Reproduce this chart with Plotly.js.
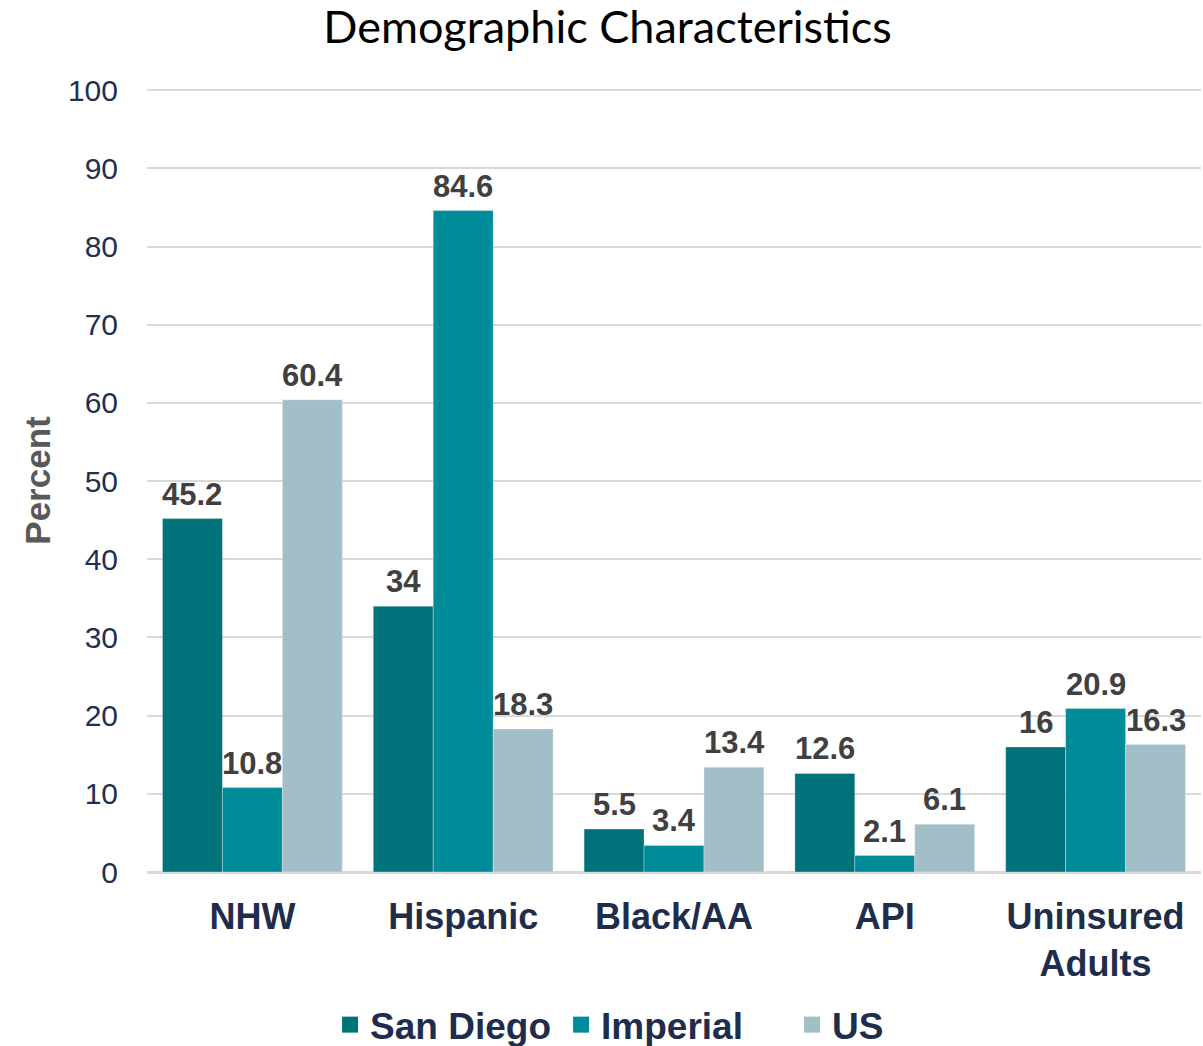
<!DOCTYPE html>
<html>
<head>
<meta charset="utf-8">
<script src="https://cdn.plot.ly/plotly-3.0.1.min.js"></script>
<style>html,body{margin:0;padding:0;background:#fff;}#chart{width:1203px;height:1046px;}</style>
</head>
<body>
<div id="chart"></div>
<script>
const categories = ["NHW", "Hispanic", "Black/AA", "API", "Uninsured<br>Adults"];
const seriesNames = ["San Diego", "Imperial", "US"];
const sanDiego = [45.2, 34, 5.5, 12.6, 16];
const imperial = [10.8, 84.6, 3.4, 2.1, 20.9];
const us = [60.4, 18.3, 13.4, 6.1, 16.3];
const yTicks = [0, 10, 20, 30, 40, 50, 60, 70, 80, 90, 100];

const colors = ["#00737A", "#008B98", "#A2BEC6"];
const allSeries = [sanDiego, imperial, us];
const F = "Liberation Sans, Arial, sans-serif";

const traces = allSeries.map((vals, i) => ({
  type: "bar",
  name: seriesNames[i],
  x: categories,
  y: vals,
  showlegend: false,
  marker: {color: colors[i], line: {color: "rgba(255,255,255,0.6)", width: 0.5}},
  hoverinfo: "none"
}));
// legend entries with larger square swatches
seriesNames.forEach((n, i) => {
  traces.push({
    type: "scatter", mode: "markers", name: n,
    x: [null], y: [null],
    marker: {symbol: "square", size: 16, color: colors[i]},
    showlegend: true, hoverinfo: "none"
  });
});

const barPx = 60;
const annotations = [];
allSeries.forEach((vals, i) => {
  vals.forEach((v, j) => {
    annotations.push({
      x: categories[j], y: v, xref: "x", yref: "y",
      text: String(v), showarrow: false,
      xshift: (i - 1) * barPx, yanchor: "bottom", yshift: 5,
      font: {family: F, size: 31, color: "#404040", weight: "bold"}
    });
  });
});

const layout = {
  width: 1203, height: 1046,
  margin: {l: 147, r: 2, t: 89, b: 174, autoexpand: false},
  paper_bgcolor: "#fff", plot_bgcolor: "#fff",
  title: {text: "Demographic Characteristics", x: 0.505, xanchor: "center", y: 0.974, yanchor: "middle",
          font: {family: "Lato, Carlito, sans-serif", size: 45, color: "#000"}},
  barmode: "group", bargap: 0.147, bargroupgap: 0,
  xaxis: {
    type: "category", tickvals: categories, ticktext: categories,
    showgrid: false, showline: true, linecolor: "#D9D9D9", linewidth: 2,
    ticks: "", ticklabelstandoff: 12, automargin: false,
    tickfont: {family: F, size: 36, color: "#1F2D4D", weight: "bold"}
  },
  yaxis: {
    range: [0, 100.15], tickvals: yTicks, ticktext: yTicks.map(String),
    showgrid: true, gridcolor: "#D9D9D9", gridwidth: 2,
    zeroline: true, zerolinecolor: "#D9D9D9", zerolinewidth: 2,
    ticks: "", ticklabelstandoff: 28, automargin: false,
    tickfont: {family: F, size: 30, color: "#1F3050"},
    title: {text: "Percent", standoff: 6,
            font: {family: F, size: 35, color: "#595959", weight: "bold"}}
  },
  legend: {orientation: "h", x: 0.5624, xanchor: "center", xref: "container",
           y: 0.02, yanchor: "middle", yref: "container",
           font: {family: F, size: 37, color: "#1F2D4D", weight: "bold"},
           itemwidth: 30, traceorder: "normal",
           entrywidth: 186, entrywidthmode: "pixels"},
  annotations: annotations,
  showlegend: true
};

Plotly.newPlot("chart", traces, layout, {displayModeBar: false, staticPlot: true});
</script>
</body>
</html>
